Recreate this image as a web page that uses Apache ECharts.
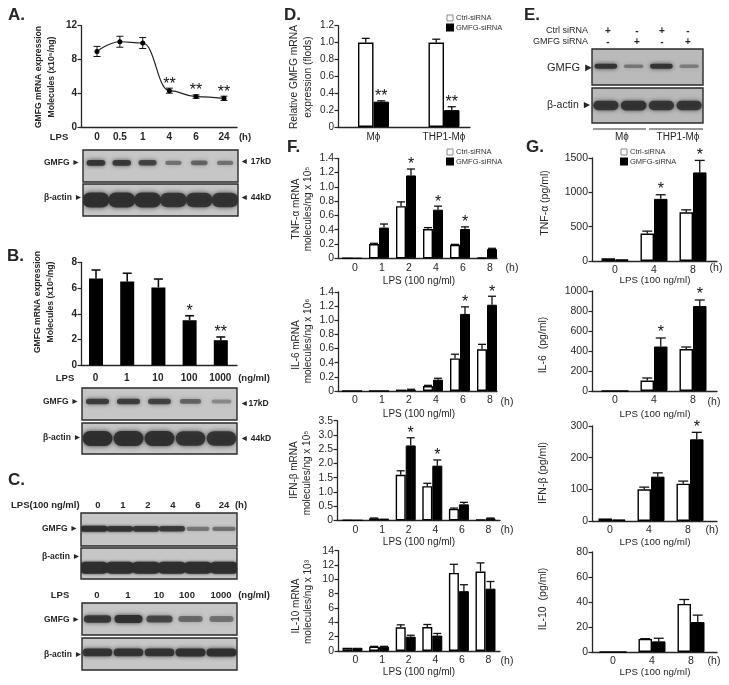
<!DOCTYPE html>
<html><head><meta charset="utf-8">
<style>html,body{margin:0;padding:0;background:#fff}#c{width:729px;height:685px;filter:blur(.35px)}</style>
<script src="https://cdn.jsdelivr.net/npm/echarts@6/dist/echarts.min.js"></script>
</head><body><div id="c"></div>
<script>
// ---------- data ----------
const aLabels=['0','0.5','1','4','6','24'], aPos=[0,.9,1.8,2.85,3.9,5];
const aVal=[8.95,10.1,9.95,4.3,3.6,3.4], aErr=[.6,.65,.65,.3,.2,.25], aStars=[0,0,0,2,2,2];
const bLabels=['0','1','10','100','1000'];
const bVal=[6.75,6.5,6.05,3.5,1.95], bErr=[.65,.65,.65,.35,.25], bStars=[0,0,0,1,2];
const dLabels=['Mϕ','THP1-Mϕ'];
const dCtrl=[1,1], dCtrlErr=[.05,.04], dSi=[.3,.2], dSiErr=[.01,.04], dStars=[2,2];
const fLabels=['0','1','2','4','6','8'];
const gLabels=['0','4','8'];
const f1Ctrl=[0,.2,.73,.41,.19,.01], f1CtrlErr=[0,.01,.06,.02,.005,0], f1Si=[0,.43,1.16,.68,.41,.13], f1SiErr=[0,.05,.09,.05,.03,.01], f1Stars=[0,0,1,1,1,0];
const f2Ctrl=[0,0,.02,.07,.46,.59], f2CtrlErr=[0,0,0,.01,.06,.07], f2Si=[0,0,.02,.16,1.09,1.22], f2SiErr=[0,0,.005,.02,.1,.12], f2Stars=[0,0,0,0,1,1];
const f3Ctrl=[0,.07,1.6,1.2,.4,.03], f3CtrlErr=[0,.01,.14,.1,.03,0], f3Si=[0,.06,2.63,1.92,.56,.07], f3SiErr=[0,0,.27,.2,.07,.01], f3Stars=[0,0,1,1,0,0];
const f4Ctrl=[.45,.6,3.3,3.35,10.9,11.1], f4CtrlErr=[0,.05,.35,.35,1.2,1.2], f4Si=[.45,.6,2,2.15,8.35,8.7], f4SiErr=[0,.05,.2,.3,.9,1], f4Stars=[0,0,0,0,0,0];
const g1Ctrl=[40,400,710], g1CtrlErr=[0,35,35], g1Si=[25,905,1290], g1SiErr=[0,60,175], g1Stars=[0,1,1];
const g2Ctrl=[0,105,420], g2CtrlErr=[0,25,20], g2Si=[0,445,850], g2SiErr=[0,85,60], g2Stars=[0,1,1];
const g3Ctrl=[8,100,118], g3CtrlErr=[0,7,8], g3Si=[5,140,258], g3SiErr=[0,12,22], g3Stars=[0,0,1];
const g4Ctrl=[0,10.5,38.5], g4CtrlErr=[0,.2,3.5], g4Si=[0,8.5,24], g4SiErr=[0,2.5,5.5], g4Stars=[0,0,0];
// western-blot band densities per lane
const blotA1=[.95,.9,.8,.45,.55,.45], blotA2=[1,1,1,.95,.95,.95];
const blotB1=[.85,.85,.8,.55,.3], blotB2=[1,1,1,.95,.95];
const blotC1=[1,.9,.9,.85,.4,.45], blotC2=[1,1,1,1,1,1];
const blotC3=[.9,1,.75,.5,.45], blotC4=[.95,.95,.95,1,1];
const blotE1=[.95,.4,.95,.35], blotE2=[.9,.95,.9,.9];
// ---------- builders ----------
const FONT='"Liberation Sans","DejaVu Sans",sans-serif', INK='#262626';
const grid=[],xAxis=[],yAxis=[],series=[],graphic=[];
function T(text,x,y,o={}){graphic.push({type:'text',x,y,rotation:o.rot?Math.PI/2:0,z:20,style:{text,fontFamily:FONT,fontSize:o.size||10,fontWeight:o.bold?'bold':'normal',fill:o.fill||INK,textAlign:o.align||'center',textVerticalAlign:'middle'}});}
function panel(c){
  const i=grid.length, step=c.step, shift=(c.labelShift||0)/step, pos=c.pos||c.labels.map((_,k)=>k);
  grid.push({left:c.x0,width:c.x1-c.x0,top:c.yTop,height:c.y0-c.yTop});
  xAxis.push({type:'value',gridIndex:i,min:(c.x0-c.p0)/step,max:(c.x1-c.p0)/step,splitLine:{show:false},axisTick:{show:false},
    axisLine:{onZero:false,lineStyle:{color:INK,width:1.3}},
    axisLabel:{customValues:pos.map(p=>p+shift),showMinLabel:true,showMaxLabel:true,hideOverlap:false,margin:c.xMargin||5,fontFamily:FONT,fontSize:c.size||10.5,fontWeight:c.bold?'bold':'normal',color:INK,
      formatter:v=>{let b=0;pos.forEach((p,k)=>{if(Math.abs(p+shift-v)<Math.abs(pos[b]+shift-v))b=k;});return c.labels[b];}}});
  yAxis.push({type:'value',gridIndex:i,min:0,max:c.max,interval:c.interval,splitLine:{show:false},
    axisLine:{show:true,onZero:false,lineStyle:{color:INK,width:1.3}},axisTick:{show:true,length:3.5,lineStyle:{color:INK,width:1.2}},
    axisLabel:{margin:4,hideOverlap:false,fontFamily:FONT,fontSize:c.size||10.5,fontWeight:c.bold?'bold':'normal',color:INK,
      formatter:v=>v===0?'0':(c.dec?v.toFixed(c.dec):String(v))}});
  return i;
}
function errSeries(i,xs,val,err,stars,shift,o={}){
  series.push({type:'custom',xAxisIndex:i,yAxisIndex:i,z:1,silent:true,
    encode:{x:0,y:1},data:val.map((v,k)=>[xs[k],v,err[k],stars?stars[k]:0]),
    renderItem:(p,api)=>{
      const x=api.value(0),v=api.value(1),e=api.value(2),s=api.value(3);
      const c0=api.coord([x,v]),c1=api.coord([x,v+e]),c2=api.coord([x,v-e]);
      const px=c0[0]+shift,kids=[],st={stroke:'#111',lineWidth:o.lw||1.3};
      if(e>0){
        const capH=o.cap||5;
        kids.push({type:'line',shape:{x1:px,y1:o.both?c2[1]:c0[1],x2:px,y2:c1[1]},style:st});
        kids.push({type:'line',shape:{x1:px-capH,y1:c1[1],x2:px+capH,y2:c1[1]},style:st});
        if(o.both)kids.push({type:'line',shape:{x1:px-capH,y1:c2[1],x2:px+capH,y2:c2[1]},style:st});
      }
      if(s>0)kids.push({type:'text',x:px,y:c1[1]-(o.starGap||6)+3,style:{text:'*'.repeat(s),fontFamily:FONT,fontSize:16,fill:'#111',textAlign:'center',textVerticalAlign:'middle'}});
      return {type:'group',children:kids};
    }});
}
function pairs(c,ctrl,ctrlE,si,siE,stars){
  const i=panel(c),xs=ctrl.map((_,k)=>k),w=c.barW;
  const d=a=>a.map((v,k)=>[xs[k],v]);
  series.push({name:'Ctrl-siRNA',type:'bar',xAxisIndex:i,yAxisIndex:i,barWidth:w,barGap:'0%',data:d(ctrl),z:2,itemStyle:{color:'#fff',borderColor:'#000',borderWidth:1.4}});
  series.push({name:'GMFG-siRNA',type:'bar',xAxisIndex:i,yAxisIndex:i,barWidth:w,barGap:'0%',data:d(si),z:2,itemStyle:{color:'#000',borderColor:'#000',borderWidth:1}});
  errSeries(i,xs,ctrl,ctrlE,null,-w/2,{cap:c.cap||4});
  errSeries(i,xs,si,siE,stars,w/2,{cap:c.cap||4,starGap:c.starGap||7});
}
function blot(box,lanes,o){
  const i=grid.length;
  grid.push({show:true,left:box[0],width:box[1]-box[0],top:box[2],height:box[3]-box[2],backgroundColor:o.bg||'#c6c6c6',borderColor:'#2a2a2a',borderWidth:1.4});
  xAxis.push({type:'category',gridIndex:i,show:false,data:lanes.map((_,k)=>String(k))});
  yAxis.push({type:'value',gridIndex:i,show:false,min:0,max:1});
  series.push({type:'custom',xAxisIndex:i,yAxisIndex:i,silent:true,clip:true,z:3,encode:{x:0,y:1},
    data:lanes.map((v,k)=>[k,o.y,v]),
    renderItem:(p,api)=>{
      const c=api.coord([api.value(0),api.value(1)]),v=api.value(2);
      const w=o.w*(.75+.25*v),h=o.h*(.5+.5*v),a=Math.min(.95,.1+.85*v);
      const col=`rgba(45,45,45,${a})`;
      return {type:'rect',shape:{x:c[0]-w/2,y:c[1]-h/2,width:w,height:h,r:h/2},style:{fill:col,shadowBlur:o.blur||4,shadowColor:col}};
    }});
}
function legendAt(left,top){return {left,top,orient:'vertical',itemWidth:6,itemHeight:6,itemGap:1.5,icon:'rect',selectedMode:false,padding:0,textStyle:{fontFamily:FONT,fontSize:7.5,color:'#333',padding:[0,0,0,-2]},
  data:[{name:'Ctrl-siRNA',itemStyle:{color:'#fff',borderColor:'#888',borderWidth:1}},{name:'GMFG-siRNA',itemStyle:{color:'#000',borderColor:'#000'}}]};}
// ---------- panels ----------
// A
{ const i=panel({x0:81,x1:237,yTop:25.7,y0:127,p0:97,step:25.4,pos:aPos,labels:aLabels,max:12,interval:4,bold:true,size:10,xMargin:5});
  series.push({type:'line',xAxisIndex:i,yAxisIndex:i,smooth:.45,smoothMonotone:'x',symbol:'circle',symbolSize:5,data:aVal.map((v,k)=>[aPos[k],v]),lineStyle:{color:'#222',width:1.2},itemStyle:{color:'#000'},z:3});
  errSeries(i,aPos,aVal,aErr,aStars,0,{both:true,cap:3.5,lw:1,starGap:7});
}
T('GMFG mRNA expression',39,77,{rot:1,bold:1,size:8.6});T('Molecules (x10⁵/ng)',52,77,{rot:1,bold:1,size:8.6});
T('A.',8,15,{bold:1,size:17,align:'left'});T('LPS',59,137,{bold:1,size:9.5});T('(h)',245,137,{bold:1,size:9.5});
blot([83,238,150,182],blotA1,{y:.6,w:19,h:6});blot([83,238,184,216],blotA2,{y:.5,w:27,h:15,blur:5});
T('GMFG ►',44,163,{bold:1,size:8.5,align:'left'});T('β-actin ►',44,198,{bold:1,size:8.5,align:'left'});
T('◄ 17kD',240,162,{bold:1,size:8.5,align:'left'});T('◄ 44kD',240,198,{bold:1,size:8.5,align:'left'});
// B
{ const i=panel({x0:81,x1:237,yTop:262.3,y0:365.3,p0:96,step:31.2,labels:bLabels,max:8,interval:2,bold:true,size:10,xMargin:8,labelShift:-.5});
  series.push({type:'bar',xAxisIndex:i,yAxisIndex:i,barWidth:14,data:bVal.map((v,k)=>[k,v]),itemStyle:{color:'#000'},z:2});
  errSeries(i,bVal.map((_,k)=>k),bVal,bErr,bStars,0,{cap:4.5,lw:1.6,starGap:7});
}
T('GMFG mRNA expression',38,302,{rot:1,bold:1,size:8.6});T('Molecules (x10⁵/ng)',51,302,{rot:1,bold:1,size:8.6});
T('B.',7,256,{bold:1,size:17,align:'left'});T('LPS',65,378,{bold:1,size:9.5});T('(ng/ml)',254,378,{bold:1,size:9.5});
blot([82,237,388,420],blotB1,{y:.58,w:24,h:6});blot([82,237,423,454],blotB2,{y:.5,w:30,h:15,blur:5});
T('GMFG ►',43,402,{bold:1,size:8.5,align:'left'});T('β-actin ►',43,438,{bold:1,size:8.5,align:'left'});
T('◄17kD',240,404,{bold:1,size:8.5,align:'left'});T('◄ 44kD',240,439,{bold:1,size:8.5,align:'left'});
// C
T('C.',8,480,{bold:1,size:17,align:'left'});T('LPS(100 ng/ml)',11,505,{bold:1,size:9.5,align:'left'});
['0','1','2','4','6','24'].forEach((s,k)=>T(s,[98,123,148,173,198,224][k],505,{bold:1,size:9.5}));T('(h)',241,505,{bold:1,size:9.5});
blot([81,237,513,546],blotC1,{y:.52,w:27,h:6,blur:3});blot([81,237,548,579],blotC2,{y:.36,w:30,h:12,blur:3});
T('GMFG ►',42,529,{bold:1,size:8.5,align:'left'});T('β-actin ►',42,557,{bold:1,size:8.5,align:'left'});
T('LPS',60,595,{bold:1,size:9.5});bLabels.forEach((s,k)=>T(s,[97,128,159,187,221][k],595,{bold:1,size:9.5}));T('(ng/ml)',254,595,{bold:1,size:9.5});
blot([82,237,603,635],blotC3,{y:.5,w:28,h:8});blot([82,237,638,670],blotC4,{y:.55,w:30,h:8});
T('GMFG ►',44,620,{bold:1,size:8.5,align:'left'});T('β-actin ►',44,655,{bold:1,size:8.5,align:'left'});
// D
pairs({x0:338,x1:470,yTop:25.7,y0:127,p0:373.5,step:70.5,labels:dLabels,max:1.2,interval:.2,dec:1,barW:15.5,xMargin:5,size:10,cap:4,starGap:7},dCtrl,dCtrlErr,dSi,dSiErr,dStars);
T('Relative GMFG mRNA',294,77,{rot:1,size:10.3});T('expression (flods)',308,77,{rot:1,size:10.3});T('D.',284,15,{bold:1,size:17,align:'left'});
// E
T('E.',524,15,{bold:1,size:17,align:'left'});
T('Ctrl siRNA',588,31,{align:'right',size:9});T('GMFG siRNA',588,42,{align:'right',size:9});
['+','-','+','-'].forEach((s,k)=>T(s,[608,637,662,688][k],31,{size:10,bold:1}));['-','+','-','+'].forEach((s,k)=>T(s,[608,637,662,688][k],42,{size:10,bold:1}));
blot([592,703,49,85],blotE1,{y:.52,w:23,h:5,bg:'#bababa'});blot([592,703,88,123],blotE2,{y:.5,w:26,h:10,bg:'#bababa'});
T('GMFG ►',547,68,{size:11,align:'left'});T('β-actin ►',547,105,{size:10.5,align:'left'});
graphic.push({type:'line',shape:{x1:593,y1:129,x2:646,y2:129},style:{stroke:'#333',lineWidth:1}},{type:'line',shape:{x1:649,y1:129,x2:703,y2:129},style:{stroke:'#333',lineWidth:1}});
T('Mϕ',622,137,{size:10});T('THP1-Mϕ',678,137,{size:10});
// F
const fC={x0:338,x1:497,p0:352,step:27,labels:fLabels,barW:10,dec:1,size:10.5,xMargin:4,labelShift:3,starGap:7,cap:4};
pairs({...fC,yTop:158.3,y0:258.3,max:1.4,interval:.2},f1Ctrl,f1CtrlErr,f1Si,f1SiErr,f1Stars);
pairs({...fC,yTop:292,y0:391,max:1.4,interval:.2},f2Ctrl,f2CtrlErr,f2Si,f2SiErr,f2Stars);
pairs({...fC,x0:337,x1:500,p0:352.5,step:26.6,yTop:420.7,y0:520.3,max:3.5,interval:.5},f3Ctrl,f3CtrlErr,f3Si,f3SiErr,f3Stars);
pairs({...fC,x1:500,p0:352.5,step:26.6,yTop:550.7,y0:651,max:14,interval:2,dec:0},f4Ctrl,f4CtrlErr,f4Si,f4SiErr,f4Stars);
T('F.',287,147,{bold:1,size:17,align:'left'});
[['TNF-α mRNA',296,209,'molecules/ng x 10⁵',308,209],['IL-6 mRNA',296,345,'molecules/ng x 10⁶',308,341],['IFN-β mRNA',294,470,'molecules/ng x 10⁵',307,473],['IL-10 mRNA',296,606,'molecules/ng x 10³',308,602]]
 .forEach(r=>{T(r[0],r[1],r[2],{rot:1,size:10});T(r[3],r[4],r[5],{rot:1,size:10});});
[[512,268,281],[507,402,414],[507,530,542],[507,661,672]].forEach(r=>{T('(h)',r[0],r[1],{size:10.5});T('LPS (100 ng/ml)',419,r[2],{size:10});});
// G
const gC={x0:592,x1:717,p0:615,step:39,labels:gLabels,barW:13.5,size:10.5,xMargin:4,labelShift:0,starGap:8,cap:5};
pairs({...gC,yTop:158,y0:261,max:1500,interval:500},g1Ctrl,g1CtrlErr,g1Si,g1SiErr,g1Stars);
pairs({...gC,yTop:291,y0:391,max:1000,interval:200},g2Ctrl,g2CtrlErr,g2Si,g2SiErr,g2Stars);
pairs({...gC,yTop:426,y0:521,max:300,interval:100,p0:612,labelShift:-2},g3Ctrl,g3CtrlErr,g3Si,g3SiErr,g3Stars);
pairs({...gC,yTop:552,y0:652,max:80,interval:20,p0:613},g4Ctrl,g4CtrlErr,g4Si,g4SiErr,g4Stars);
T('G.',526,147,{bold:1,size:17,align:'left'});
[['TNF-α (pg/ml)',545,203],['IL-6  (pg/ml)',543,345],['IFN-β (pg/ml)',543,473],['IL-10  (pg/ml)',543,599]].forEach(r=>T(r[0],r[1],r[2],{rot:1,size:10.5}));
[[716,268,280],[714,402,414],[712,530,542],[714,661,672]].forEach(r=>{T('(h)',r[0],r[1],{size:10.5});T('LPS (100 ng/ml)',655,r[2],{size:9.8});});

const chart=echarts.init(document.getElementById('c'),null,{renderer:'canvas'});
chart.setOption({animation:false,backgroundColor:'#fff',textStyle:{fontFamily:FONT},
  legend:[legendAt(446,14),legendAt(446,148),legendAt(620,148)],grid,xAxis,yAxis,series,graphic:{elements:graphic}});
</script></body></html>
